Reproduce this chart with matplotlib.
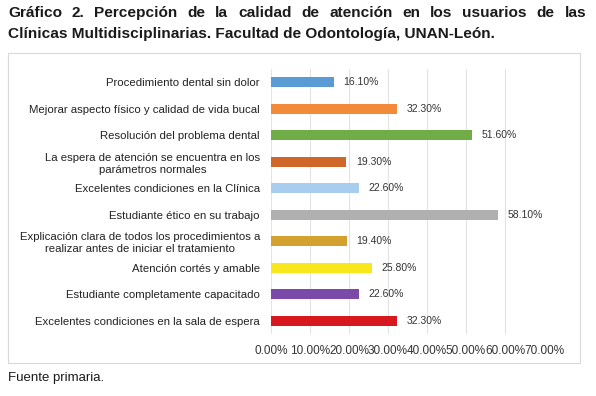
import matplotlib.pyplot as plt
from matplotlib.patches import Rectangle
from matplotlib.ticker import FuncFormatter

plt.rcParams['font.family'] = ['Liberation Sans', 'DejaVu Sans']

# Datos del gráfico (de arriba hacia abajo)
categorias = [
    'Procedimiento dental sin dolor',
    'Mejorar aspecto físico y calidad de vida bucal',
    'Resolución del problema dental',
    'La espera de atención se encuentra en los\nparámetros normales',
    'Excelentes condiciones en la Clínica',
    'Estudiante ético en su trabajo',
    'Explicación clara de todos los procedimientos a\nrealizar antes de iniciar el tratamiento',
    'Atención cortés y amable',
    'Estudiante completamente capacitado',
    'Excelentes condiciones en la sala de espera',
]
valores = [16.1, 32.3, 51.6, 19.3, 22.6, 58.1, 19.4, 25.8, 22.6, 32.3]
colores = ['#5B9BD5', '#F28A3A', '#70AD47', '#D0672A', '#A8CDEE',
           '#B0B0B0', '#D4A02E', '#F8E71C', '#7B4AA8', '#D7191F']
ticks = [0, 10, 20, 30, 40, 50, 60, 70]

titulo1 = 'Gráfico 2. Percepción de la calidad de atención en los usuarios de las'
titulo2 = 'Clínicas Multidisciplinarias. Facultad de Odontología, UNAN-León.'

fig = plt.figure(figsize=(5.96, 3.96), dpi=100)
W, H = 596, 396

# Marco del gráfico
fig.patches.append(Rectangle((8 / W, 1 - 363 / H), 572 / W, 310 / H,
                             transform=fig.transFigure, fill=False,
                             edgecolor='#D9D9D9', linewidth=0.8))

ax = fig.add_axes([271 / W, 1 - 334 / H, 273 / W, 265 / H])
pos = list(range(len(categorias)))
ax.barh(pos, valores, height=0.36, color=colores)
ax.set_ylim(len(categorias) - 0.5, -0.5)
ax.set_xlim(0, 70)
ax.set_xticks(ticks)
ax.xaxis.set_major_formatter(FuncFormatter(lambda v, p: f'{v:.2f}%'))
ax.set_yticks(pos)
ax.set_yticklabels(categorias, fontsize=8.2, color='#222222', multialignment='center',
                   linespacing=1.25)
ax.tick_params(axis='x', length=0, labelsize=8.5, colors='#333333', pad=8)
ax.tick_params(axis='y', length=0, pad=8)
ax.grid(axis='x', color='#E3E3E3', linewidth=0.8)
ax.set_axisbelow(True)
for s in ax.spines.values():
    s.set_visible(False)

for i, v in enumerate(valores):
    ax.text(v + 2.5, i, f'{v:.2f}%', va='center', ha='left', fontsize=7.5, color='#333333')

# Título: primera línea justificada
renderer = fig.canvas.get_renderer()
palabras = titulo1.split(' ')
objs = [fig.text(0, 1 - 13 / H, p, fontsize=11.1, fontweight='bold', va='center',
                 ha='left', color='#1a1a1a') for p in palabras]
anchos = [t.get_window_extent(renderer).width for t in objs]
hueco = (586 - 8 - sum(anchos)) / (len(palabras) - 1)
x = 8
for t, w in zip(objs, anchos):
    t.set_x(x / W)
    x += w + hueco

fig.text(8 / W, 1 - 34 / H, titulo2, fontsize=11.1, fontweight='bold',
         va='center', ha='left', color='#1a1a1a')
fig.text(8 / W, 1 - 378 / H, 'Fuente primaria.', fontsize=9.5, va='center', ha='left', color='#1a1a1a')

fig.savefig('out.png', dpi=100)
